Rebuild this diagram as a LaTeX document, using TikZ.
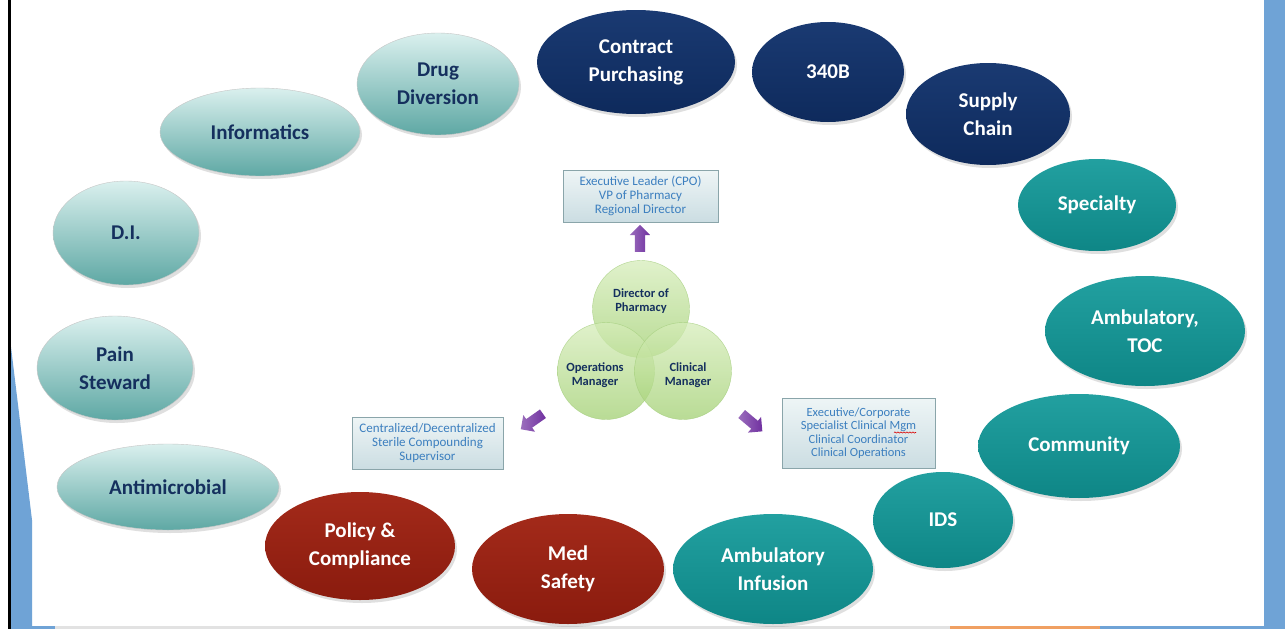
\documentclass[tikz,border=0pt]{standalone}
\usepackage{fontspec}
\setmainfont{Carlito}
\usetikzlibrary{shapes.geometric,shapes.arrows,shadows,decorations.pathmorphing}
\definecolor{navy}{HTML}{0E2A5C}
\definecolor{navytop}{HTML}{1A3A72}
\definecolor{tealdk}{HTML}{0E8686}
\definecolor{tealtop}{HTML}{22A0A0}
\definecolor{reddk}{HTML}{8A1B0E}
\definecolor{redtop}{HTML}{A32A1A}
\definecolor{lttop}{HTML}{DAF0EE}
\definecolor{ltbot}{HTML}{5EA8A4}
\definecolor{txtnavy}{HTML}{15305E}
\definecolor{boxblue}{HTML}{3C7FBF}
\definecolor{boxtop}{HTML}{EEF5F6}
\definecolor{boxbot}{HTML}{CBDDE2}
\definecolor{boxline}{HTML}{8AA5AA}
\definecolor{grtop}{HTML}{D6EDBA}
\definecolor{grbot}{HTML}{A2D072}
\definecolor{grline}{HTML}{A3CD7C}
\definecolor{purp}{HTML}{7030A0}
\definecolor{bgblue}{HTML}{6FA3D6}
\definecolor{bgorange}{HTML}{F0A062}
\definecolor{bggray}{HTML}{E2E2E2}
\tikzset{
  ell/.style={ellipse, inner sep=0pt, align=center,
    font=\bfseries\fontsize{21}{28}\selectfont,
    drop shadow={opacity=0.25, shadow xshift=2pt, shadow yshift=-3pt}},
  lt/.style={ell, draw=gray!45, top color=lttop, bottom color=ltbot, text=txtnavy},
  nv/.style={ell, draw=none, top color=navytop, bottom color=navy, text=white},
  tl/.style={ell, draw=none, top color=tealtop, bottom color=tealdk, text=white},
  rd/.style={ell, draw=none, top color=redtop, bottom color=reddk, text=white},
  infobox/.style={rectangle, draw=boxline, top color=boxtop, bottom color=boxbot,
    text=boxblue, align=center, inner sep=0pt,
    font=\fontsize{13}{14}\selectfont},
  grc/.style={circle, inner sep=0pt, minimum size=97pt, draw=grline,
    top color=grtop, bottom color=grbot, fill opacity=0.75, draw opacity=0.8},
  grt/.style={align=center, text=txtnavy, font=\bfseries\fontsize{12.5}{14}\selectfont},
  parrow/.style={single arrow, draw=none, left color=purp!70!white, right color=purp,
    minimum height=27pt, inner sep=5pt, single arrow head extend=5pt}
}
\begin{document}
\begin{tikzpicture}[x=1pt,y=-1pt]
\useasboundingbox (0,0) rectangle (1285,629);
% background
\fill[white] (0,0) rectangle (1285,629);
\fill[bgblue] (1264,0) rectangle (1285,629);
\fill[bgblue] (11,347) -- (32,520) -- (32,626) -- (11,626) -- cycle;
\fill[bgblue] (11,626) rectangle (55,629);
\fill[bggray] (55,626) rectangle (950,629);
\fill[bgorange] (950,626) rectangle (1100,629);
\fill[bgblue] (1100,626) rectangle (1264,629);
\fill[black] (8,0) rectangle (11,629);

% ellipses
\node[lt, minimum width=162pt, minimum height=102pt] (drug) at (438,84) {Drug\\Diversion};
\node[nv, minimum width=198pt, minimum height=104pt] (contract) at (636,62) {Contract\\Purchasing};
\node[nv, minimum width=152pt, minimum height=100pt] (b340) at (828,72) {340B};
\node[nv, minimum width=164pt, minimum height=102pt] (supply) at (988,114) {Supply\\Chain};
\node[tl, minimum width=158pt, minimum height=92pt] (spec) at (1097,205) {Specialty};
\node[tl, minimum width=200pt, minimum height=110pt] (ambtoc) at (1145,331) {Ambulatory,\\TOC};
\node[tl, minimum width=202pt, minimum height=104pt] (comm) at (1079,446) {Community};
\node[tl, minimum width=140pt, minimum height=96pt] (ids) at (943,520) {IDS};
\node[tl, minimum width=200pt, minimum height=110pt] (ambinf) at (773,569) {Ambulatory\\Infusion};
\node[rd, minimum width=192pt, minimum height=110pt] (medsafe) at (568,569) {Med\\Safety};
\node[rd, minimum width=190pt, minimum height=108pt] (policy) at (360,546) {Policy \&\\Compliance};
\node[lt, minimum width=222pt, minimum height=86pt] (antimic) at (168,487) {Antimicrobial};
\node[lt, minimum width=156pt, minimum height=104pt] (pain) at (115,368) {Pain\\Steward};
\node[lt, minimum width=146pt, minimum height=104pt] (di) at (126,233) {D.I.};
\node[lt, minimum width=200pt, minimum height=88pt] (inform) at (260,132) {Informatics};

% info boxes
\node[infobox, minimum width=155pt, minimum height=52pt] (topbox) at (640.5,196)
  {Executive Leader (CPO)\\VP of Pharmacy\\Regional Director};
\node[infobox, minimum width=151pt, minimum height=52pt] (leftbox) at (427.5,443)
  {Centralized/Decentralized\\Sterile Compounding\\Supervisor};
\node[infobox, minimum width=153pt, minimum height=70pt, font=\fontsize{12.5}{13.5}\selectfont] (rightbox) at (858.5,433)
  {Executive/Corporate\\Specialist Clinical Mgm\\Clinical Coordinator\\Clinical Operations};
\draw[red!85!black, line width=0.6pt, decorate,
  decoration={snake, amplitude=0.6pt, segment length=3pt}] (894,432.5) -- (916,432.5);

% venn circles
\node[grc] (dirc) at (641,309) {};
\node[grc] (opsc) at (606,371) {};
\node[grc] (clinc) at (683,371) {};
\node[grt] (dirt) at (641,301) {Director of\\Pharmacy};
\node[grt] (opst) at (595,375) {Operations\\Manager};
\node[grt] (clint) at (688,375) {Clinical\\Manager};

% purple arrows
\node[parrow, rotate=90] (uparr) at (640,241) {};
\node[parrow, rotate=215] (leftarr) at (534,420) {};
\node[parrow, rotate=-40] (rightarr) at (750,421) {};
\end{tikzpicture}
\end{document}
